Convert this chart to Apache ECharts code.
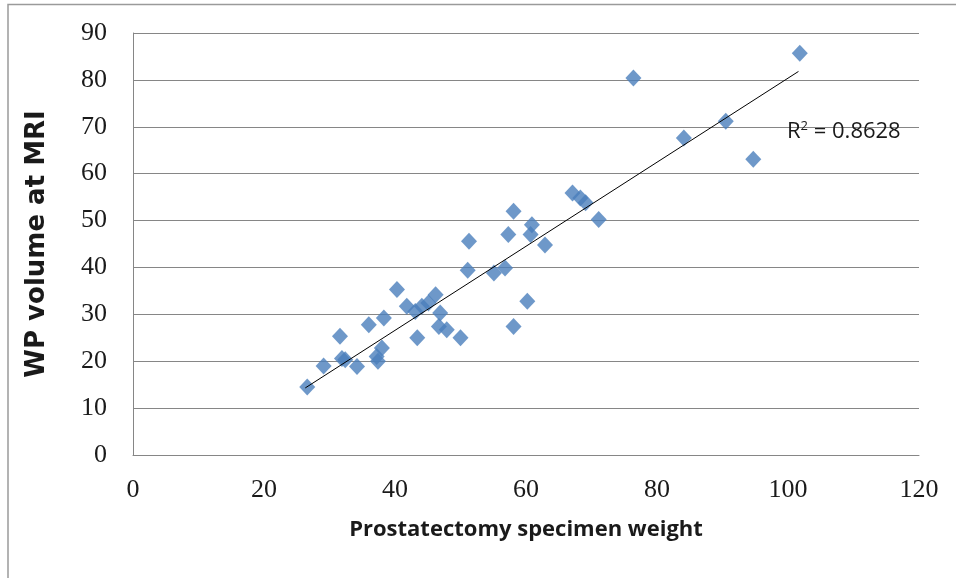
<!DOCTYPE html>
<html>
<head>
<meta charset="utf-8">
<script src="https://cdn.jsdelivr.net/npm/echarts@6/dist/echarts.min.js"></script>
<style>
html,body{margin:0;padding:0;background:#fff;}
#chart{width:956px;height:578px;}
</style>
</head>
<body>
<div id="chart"></div>
<script>
var weights = [26.6, 29.1, 31.6, 31.9, 32.4, 34.2, 36.0, 37.2, 37.4, 38.0, 38.3, 40.3, 41.8, 43.1, 43.4, 44.1, 45.1, 46.2, 46.9, 46.7, 47.9, 50.0,
               51.3, 51.1, 55.1, 56.8, 57.3, 58.1, 58.1, 60.2, 60.7, 60.9, 62.9, 67.1, 68.3, 69.1, 71.1, 76.4, 84.1, 90.5, 94.7, 101.8];
var volumes = [14.5, 19.0, 25.3, 20.6, 20.3, 18.9, 27.8, 21.0, 20.0, 22.8, 29.2, 35.3, 31.7, 30.6, 25.0, 31.7, 32.4, 34.2, 30.3, 27.4, 26.7, 25.0,
               45.6, 39.4, 38.8, 39.9, 47.0, 52.0, 27.4, 32.8, 47.0, 49.1, 44.8, 55.9, 54.8, 53.8, 50.2, 80.4, 67.6, 71.2, 63.1, 85.7];
var trendX = [26.3, 101.6];
var trendY = [14.3, 81.8];
var r2Label = '0.8628';
var xTitle = 'Prostatectomy specimen weight';
var yTitle = 'WP volume at MRI';

var pts = weights.map(function (w, i) { return [w, volumes[i]]; });
var trend = trendX.map(function (x, i) { return [x, trendY[i]]; });

var chart = echarts.init(document.getElementById('chart'), null, {renderer: 'canvas'});
chart.setOption({
  animation: false,
  backgroundColor: '#ffffff',
  graphic: [{
    type: 'polyline', z: -1,
    shape: {points: [[8, 578], [8, 4.5], [956, 4.5]]},
    style: {fill: 'none', stroke: '#9a9a9a', lineWidth: 1.5}
  }, {
    type: 'text', left: 787, top: 120, z: 10,
    style: {
      text: '{a|R}{s|2}{a| = ' + r2Label + '}',
      rich: {
        a: {fontFamily: 'Open Sans', fontSize: 22, fill: '#1a1a1a'},
        s: {fontFamily: 'Open Sans', fontSize: 13, fill: '#1a1a1a', verticalAlign: 'top', padding: [0, 0, 10, 0]}
      }
    }
  }],
  grid: {left: 133, right: 37, top: 33, bottom: 123, containLabel: false},
  xAxis: {
    type: 'value', min: 0, max: 120, interval: 20,
    name: xTitle, nameLocation: 'middle', nameGap: 64,
    nameTextStyle: {fontFamily: 'Open Sans', fontWeight: 'bold', fontSize: 22, color: '#1a1a1a'},
    axisLine: {show: true, lineStyle: {color: '#868686', width: 1}},
    axisTick: {show: false},
    splitLine: {show: false},
    axisLabel: {fontFamily: 'Liberation Serif', fontSize: 26, color: '#1a1a1a', margin: 22}
  },
  yAxis: {
    type: 'value', min: 0, max: 90, interval: 10,
    name: yTitle, nameLocation: 'middle', nameGap: 83, nameRotate: 90,
    nameTextStyle: {fontFamily: 'DejaVu Sans', fontWeight: 'bold', fontSize: 26, color: '#1a1a1a'},
    axisLine: {show: true, lineStyle: {color: '#868686', width: 1}},
    axisTick: {show: false},
    splitLine: {show: true, lineStyle: {color: '#868686', width: 1}},
    axisLabel: {fontFamily: 'Liberation Serif', fontSize: 26, color: '#1a1a1a', margin: 26}
  },
  series: [{
    type: 'line',
    data: trend,
    symbol: 'none',
    lineStyle: {color: '#000000', width: 1},
    z: 3
  }, {
    type: 'scatter',
    data: pts,
    symbol: 'diamond',
    symbolSize: [16, 17],
    itemStyle: {color: '#4a7ebb'},
    z: 2
  }]
});
</script>
</body>
</html>
